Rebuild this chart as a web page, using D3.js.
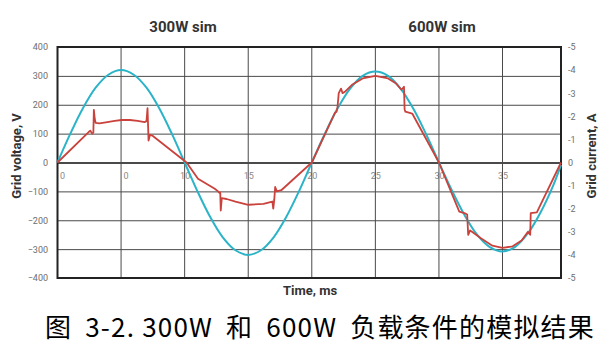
<!DOCTYPE html>
<html>
<head>
<meta charset="utf-8">
<script src="https://cdn.jsdelivr.net/npm/d3@7/dist/d3.min.js"></script>
<style>
  html, body { margin: 0; padding: 0; background: #fff; }
  svg { display: block; }
  text { font-family: Roboto, "Noto Sans", sans-serif; }
</style>
</head>
<body>
<svg id="chart" width="612" height="356"></svg>
<script>
// ---- data ----
const titles = ["300W sim", "600W sim"];
const xTickValues = [0, 5, 10, 15, 20, 25, 30, 35];
const xTickLabels = ["0", "0", "10", "15", "20", "25", "30", "35"];
const voltTicks = [400, 300, 200, 100, 0, -100, -200, -300, -400];
const currTicks = [5, 4, 3, 2, 1, 0, -1, -2, -3, -4, -5];
const currTickLabels = ["-5", "-4", "-3", "-2", "-1", "0", "-1", "-2", "-3", "-4", "-5"];

// grid voltage (V), time in ms
const voltTime = [0,1,2,3,4,5,6,7,8,9,10,11,12,13,14,15,16,17,18,19,20,
                  21,22,23,24,25,26,27,28,29,30,31,32,33,34,35,36,37,38,39,39.6];
const voltValues = [0,99,188,259,304,320,304,259,188,99,0,-99,-188,-259,-304,-320,-304,-259,-188,-99,0,
                    97,185,255,300,315,300,255,185,97,0,-95,-181,-250,-293,-308,-292,-245,-172,-78,-8];

// grid current (A), time in ms
const currTime = [0,2.47,2.58,2.72,2.82,2.86,2.93,3.0,3.3,3.8,4.5,5.05,5.7,6.3,6.85,7.0,7.08,7.13,7.16,7.28,7.5,10.15,
                  11.05,12.37,12.63,12.72,12.8,12.84,12.92,13.3,14.0,15.0,16.2,16.9,16.97,17.05,17.12,17.25,17.6,20,
                  21.82,21.95,22.02,22.12,22.3,22.42,22.6,23.2,24.0,25.0,26.0,26.6,27.05,27.25,27.3,27.36,27.9,30,
                  31.6,32.0,32.22,32.3,32.45,32.6,33.3,34.2,35.0,35.8,36.5,37.0,37.18,37.22,37.7,39.6];
const currValues = [0,1.33,1.38,1.25,1.3,2.28,1.88,1.72,1.69,1.74,1.8,1.84,1.84,1.8,1.75,1.79,2.35,1.5,0.95,1.2,1.15,0,
                    -0.7,-1.14,-1.25,-1.31,-1.3,-2.08,-1.54,-1.58,-1.69,-1.83,-1.79,-1.69,-2.0,-1.6,-1.06,-1.25,-1.2,0,
                    2.15,2.2,2.38,3.0,3.2,3.0,3.06,3.38,3.64,3.75,3.64,3.43,3.15,3.28,2.31,2.2,2.12,0,
                    -2.13,-2.19,-2.25,-3.13,-2.94,-3.0,-3.28,-3.6,-3.7,-3.63,-3.38,-3.0,-3.13,-2.19,-2.16,0];

const captionParts = ["图", "3-2. 300W", "和", "600W", "负载条件的模拟结果"];

// ---- layout ----
const L = 57.5, R = 561, T = 47, B = 278;
const svg = d3.select("#chart");

const x = d3.scaleLinear().domain([0, 39.6]).range([L, R]);
const yV = d3.scaleLinear().domain([-400, 400]).range([B, T]);
const yA = d3.scaleLinear().domain([-5, 5]).range([B, T]);

// grid lines + left tick labels
const gLeft = svg.append("g").attr("transform", `translate(${L},0)`)
  .call(d3.axisLeft(yV).tickValues(voltTicks).tickSize(-(R - L)).tickPadding(9.5).tickFormat(d3.format("d")));
gLeft.select(".domain").remove();
gLeft.selectAll(".tick line").attr("stroke", "#4a4a4a").attr("stroke-width", d => d === 0 ? 1.8 : 1);
gLeft.selectAll(".tick text").attr("fill", "#6e6e6e").style("font-size", "9px").style("font-family", "Roboto");

// x tick labels (inside plot, under zero line)
const gX = svg.append("g").attr("transform", `translate(0,${yV(0)})`)
  .call(d3.axisBottom(x).tickValues(xTickValues).tickSize(0).tickPadding(10)
    .tickFormat((d, i) => xTickLabels[i]));
gX.select(".domain").remove();
gX.selectAll(".tick text").attr("fill", "#8a8a8a").style("font-size", "9px").style("font-family", "Roboto")
  .attr("dx", (d, i) => xTickLabels[i].length === 1 ? 4.5 : 0);

// vertical grid
svg.append("g").selectAll("line").data(xTickValues).join("line")
  .attr("x1", d => x(d)).attr("x2", d => x(d)).attr("y1", T).attr("y2", B)
  .attr("stroke", "#4a4a4a").attr("stroke-width", 1);

// right axis labels
const gRight = svg.append("g").attr("transform", `translate(${R},0)`)
  .call(d3.axisRight(yA).tickValues(currTicks).tickSize(0).tickPadding(7)
    .tickFormat((d, i) => currTickLabels[i]));
gRight.select(".domain").remove();
gRight.selectAll(".tick text").attr("fill", "#6e6e6e").style("font-size", "9px").style("font-family", "Roboto");

// frame
svg.append("rect").attr("x", L).attr("y", T).attr("width", R - L).attr("height", B - T)
  .attr("fill", "none").attr("stroke", "#222").attr("stroke-width", 2);

// series
const voltData = voltTime.map((t, i) => [t, voltValues[i]]);
const currData = currTime.map((t, i) => [t, currValues[i]]);

svg.append("path").datum(voltData)
  .attr("fill", "none").attr("stroke", "#2bb3c7").attr("stroke-width", 2)
  .attr("d", d3.line().x(d => x(d[0])).y(d => yV(d[1])).curve(d3.curveCatmullRom));

svg.append("path").datum(currData)
  .attr("fill", "none").attr("stroke", "#c9423c").attr("stroke-width", 1.8).attr("stroke-linejoin", "round")
  .attr("d", d3.line().x(d => x(d[0])).y(d => yA(d[1])));

// titles
svg.append("text").attr("x", 183).attr("y", 32).attr("text-anchor", "middle")
  .attr("fill", "#333").style("font-size", "15px").style("font-weight", "bold").text(titles[0]);
svg.append("text").attr("x", 442).attr("y", 32).attr("text-anchor", "middle")
  .attr("fill", "#333").style("font-size", "15px").style("font-weight", "bold").text(titles[1]);

// axis titles
svg.append("text").attr("transform", "translate(21,156) rotate(-90)").attr("text-anchor", "middle")
  .attr("fill", "#333").style("font-size", "13px").style("font-weight", "bold").text("Grid voltage, V");
svg.append("text").attr("transform", "translate(596,156) rotate(-90)").attr("text-anchor", "middle")
  .attr("fill", "#333").style("font-size", "13px").style("font-weight", "bold").text("Grid current, A");
svg.append("text").attr("x", 310).attr("y", 295).attr("text-anchor", "middle")
  .attr("fill", "#333").style("font-size", "13px").style("font-weight", "bold").text("Time, ms");

// caption
const cap = svg.append("text").attr("x", 45).attr("y", 337)
  .attr("fill", "#000").style("font-size", "26px").style("letter-spacing", "1.2px")
  .style("font-family", "'Noto Sans CJK SC', sans-serif");
cap.selectAll("tspan").data(captionParts).join("tspan")
  .attr("dx", (d, i) => i === 0 ? 0 : 13)
  .style("white-space", "pre")
  .text(d => d);
</script>
</body>
</html>
